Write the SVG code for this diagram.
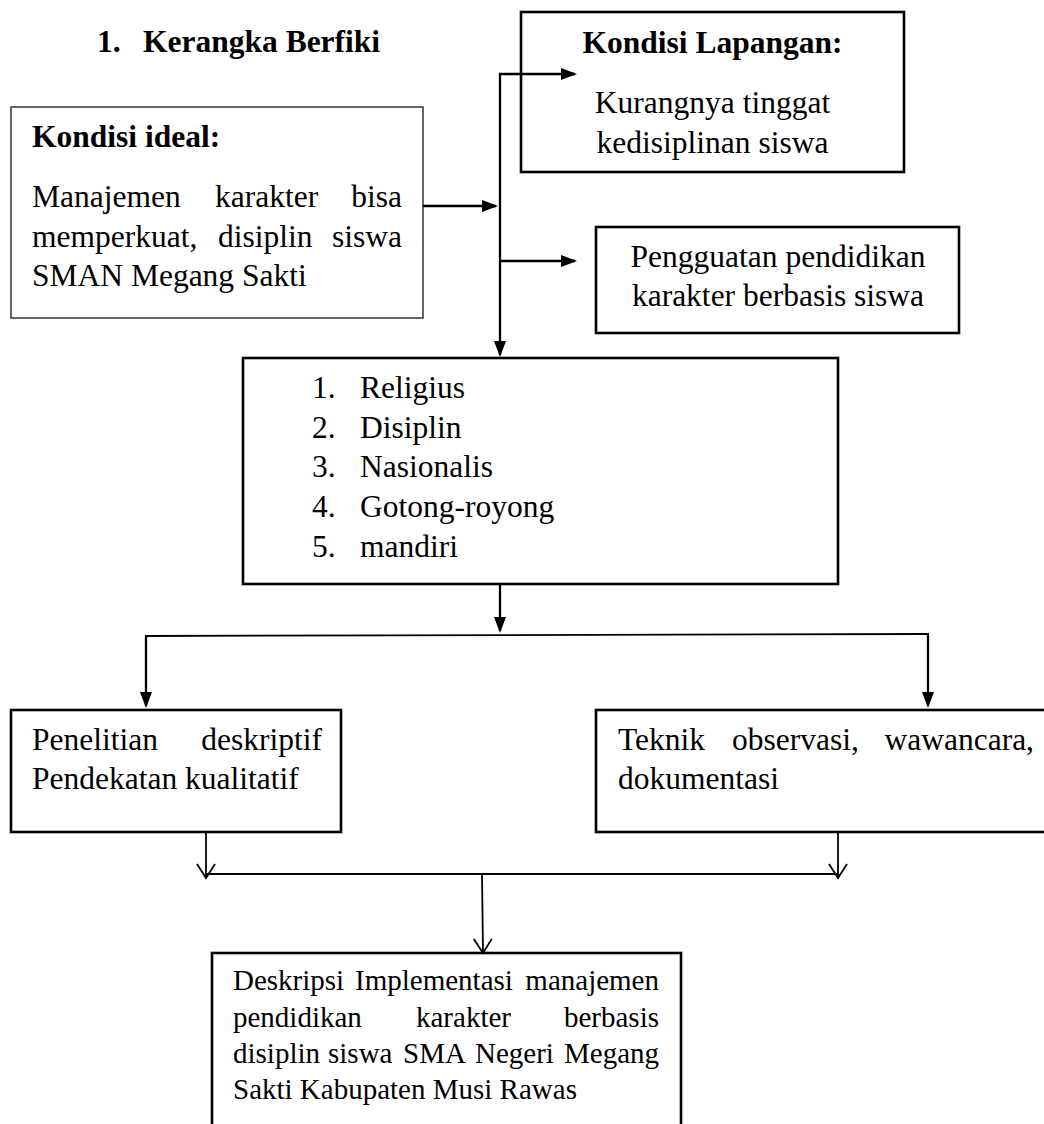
<svg xmlns="http://www.w3.org/2000/svg" width="1044" height="1124" viewBox="0 0 1044 1124">
<style>
text{font-family:"Liberation Serif","Times New Roman",serif;font-size:31.5px;fill:#000}
.b{font-weight:bold}
.c{text-anchor:middle}
.s{font-size:29px}
.box{fill:#fff;stroke:#000;stroke-width:2.6}
.thin{fill:#fff;stroke:#333;stroke-width:1.5}
.ln{fill:none;stroke:#000;stroke-width:2.3}
.ln2{fill:none;stroke:#000;stroke-width:1.8}
</style>
<defs>
<marker id="fa" markerUnits="userSpaceOnUse" markerWidth="16" markerHeight="12" viewBox="0 0 16 12" refX="14" refY="6" orient="auto">
<path d="M0,0 L16,6 L0,12 z" fill="#000"/>
</marker>
<marker id="va" markerUnits="userSpaceOnUse" markerWidth="18" markerHeight="22" viewBox="0 0 18 22" refX="15" refY="11" orient="auto">
<path d="M1,2 L15,11 L1,20" fill="none" stroke="#000" stroke-width="1.8"/>
</marker>
</defs>
<rect width="1044" height="1124" fill="#fff"/>

<g id="title">
<text class="b" x="97" y="52">1.</text>
<text class="b" x="143" y="52">Kerangka Berfiki</text>
</g>

<g id="kondisi-ideal">
<rect class="thin" x="11" y="107" width="412" height="211"/>
<text class="b" x="32" y="147">Kondisi ideal:</text>
<text y="207"><tspan x="32">Manajemen</tspan><tspan x="215">karakter</tspan></text>
<text y="207" x="402" text-anchor="end">bisa</text>
<text y="247"><tspan x="32">memperkuat,</tspan><tspan x="218">disiplin</tspan></text>
<text y="247" x="402" text-anchor="end">siswa</text>
<text x="32" y="286">SMAN Megang Sakti</text>
</g>

<g id="kondisi-lapangan">
<rect class="box" x="521" y="12" width="383" height="160"/>
<text class="b c" x="712.5" y="53">Kondisi Lapangan:</text>
<text class="c" x="712.5" y="113">Kurangnya tinggat</text>
<text class="c" x="712.5" y="153">kedisiplinan siswa</text>
</g>

<g id="pengguatan">
<rect class="box" x="596" y="227" width="363" height="106"/>
<text class="c" x="778" y="267">Pengguatan pendidikan</text>
<text class="c" x="778" y="306">karakter berbasis siswa</text>
</g>

<g id="nilai-karakter">
<rect class="box" x="243" y="358" width="595" height="226"/>
<text x="312" y="398">1.</text><text x="360" y="398">Religius</text>
<text x="312" y="438">2.</text><text x="360" y="438">Disiplin</text>
<text x="312" y="477">3.</text><text x="360" y="477">Nasionalis</text>
<text x="312" y="517">4.</text><text x="360" y="517">Gotong-royong</text>
<text x="312" y="557">5.</text><text x="360" y="557">mandiri</text>
</g>

<g id="penelitian">
<rect class="box" x="11" y="710" width="330" height="122"/>
<text x="32" y="750">Penelitian</text>
<text x="322" y="750" text-anchor="end">deskriptif</text>
<text x="32" y="789">Pendekatan kualitatif</text>
</g>

<g id="teknik">
<rect class="box" x="596" y="710" width="460" height="122"/>
<text y="750"><tspan x="618">Teknik</tspan><tspan x="732">observasi,</tspan></text>
<text x="1034" y="750" text-anchor="end">wawancara,</text>
<text x="618" y="789">dokumentasi</text>
</g>

<g id="deskripsi">
<rect class="box" x="212" y="953" width="469" height="190"/>
<text class="s" y="990"><tspan x="233">Deskripsi</tspan><tspan x="355">Implementasi</tspan></text>
<text class="s" x="659" y="990" text-anchor="end">manajemen</text>
<text class="s" y="1027"><tspan x="233">pendidikan</tspan><tspan x="416">karakter</tspan></text>
<text class="s" x="659" y="1027" text-anchor="end">berbasis</text>
<text class="s" y="1063"><tspan x="233">disiplin</tspan><tspan x="328">siswa</tspan><tspan x="403">SMA</tspan><tspan x="475">Negeri</tspan></text>
<text class="s" x="659" y="1063" text-anchor="end">Megang</text>
<text class="s" x="233" y="1099">Sakti Kabupaten Musi Rawas</text>
</g>

<g id="connectors">
<path class="ln" d="M423,206 H496" marker-end="url(#fa)"/>
<path class="ln" d="M500,73 V355" marker-end="url(#fa)"/>
<path class="ln" d="M499,74 H575" marker-end="url(#fa)"/>
<path class="ln" d="M500,261 H575" marker-end="url(#fa)"/>
<path class="ln" d="M500,584 V631" marker-end="url(#fa)"/>
<path class="ln2" d="M145,636 L929,634"/>
<path class="ln" d="M146,636 V706" marker-end="url(#fa)"/>
<path class="ln" d="M928,634 V706" marker-end="url(#fa)"/>
<path class="ln2" d="M206,832 V878" marker-end="url(#va)"/>
<path class="ln2" d="M838,832 V878" marker-end="url(#va)"/>
<path class="ln2" d="M206,874 H838"/>
<path class="ln2" d="M482,874 L483,953" marker-end="url(#va)"/>
</g>
</svg>
